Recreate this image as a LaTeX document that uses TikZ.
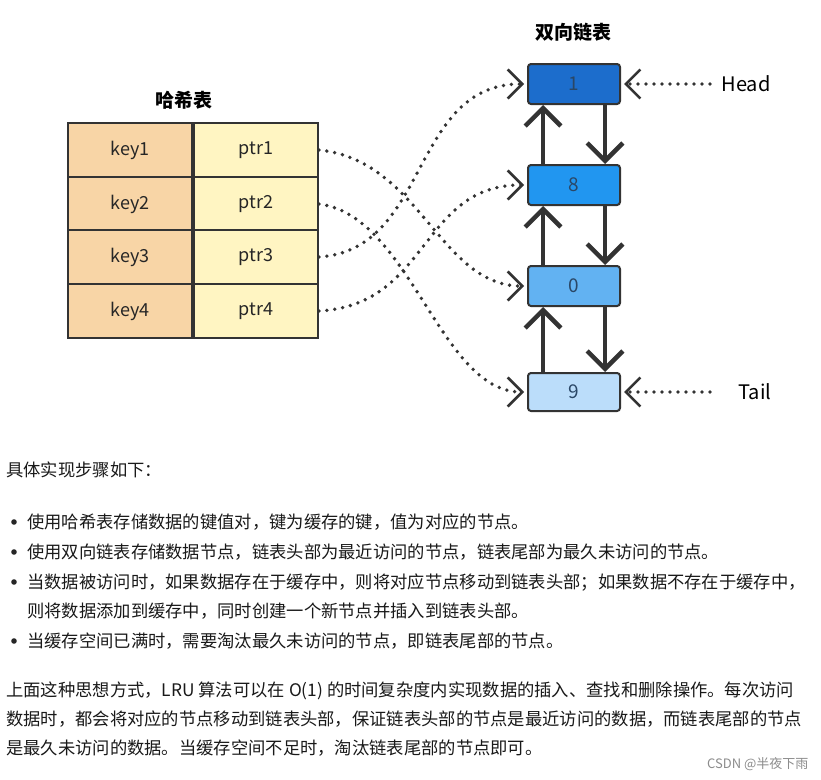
\documentclass[tikz,border=0pt]{standalone}
\usepackage{fontspec}
\setmainfont{Noto Sans CJK SC}
\usetikzlibrary{arrows.meta}
\definecolor{keyc}{HTML}{F8D5A6}
\definecolor{ptrc}{HTML}{FFF5C2}
\definecolor{bA}{HTML}{1C6DCC}
\definecolor{bB}{HTML}{2196F0}
\definecolor{bC}{HTML}{62B2F2}
\definecolor{bD}{HTML}{BBDDFA}
\definecolor{edge}{HTML}{333333}
\definecolor{ntxt}{HTML}{2A4766}
\tikzset{
 cell/.style={draw=edge,line width=1.8pt,minimum width=124pt,minimum height=53.5pt,inner sep=0pt,font=\fontsize{18}{20}\selectfont,text=black!85},
 lnode/.style={draw=edge,line width=2pt,rounded corners=3pt,minimum width=92pt,minimum height=40pt,inner sep=0pt,font=\fontsize{19}{20}\selectfont,text=ntxt},
 link/.style={line width=4.5pt,draw=edge,-{Straight Barb[scale=1.7]}},
 dots/.style={line width=3.8pt,draw=edge,dash pattern=on 0pt off 8pt,line cap=round,-{Straight Barb[scale=1.6,line width=2.6pt]}},
 body/.style={anchor=base west,font=\fontsize{17.3}{20}\selectfont,text=black!90,inner sep=0pt},
}
\begin{document}
\begin{tikzpicture}[x=1pt,y=-1pt]
\useasboundingbox[fill=white] (0,0) rectangle (821,779);
\node[font=\bfseries\fontsize{19}{22}\selectfont] (ht) at (184,100) {哈希表};
\node[font=\bfseries\fontsize{19}{22}\selectfont] (lt) at (573,32) {双向链表};
\foreach \i/\y in {1/150,2/204,3/257,4/311}{
 \node[cell,fill=keyc] (k\i) at (130,\y) {key\i};
 \node[cell,fill=ptrc] (p\i) at (256,\y) {ptr\i};
}
\node[lnode,fill=bA] (n1) at (574,84) {1};
\node[lnode,fill=bB] (n8) at (574,185) {8};
\node[lnode,fill=bC] (n0) at (574,286) {0};
\node[lnode,fill=bD,minimum height=38pt] (n9) at (574,392) {9};
\foreach \a/\b in {n1/n8,n8/n0,n0/n9}{
 \draw[link] ([xshift=31pt]\a.south) -- ([xshift=31pt]\b.north);
 \draw[link] ([xshift=-31pt]\b.north) -- ([xshift=-31pt]\a.south);
}
\node[font=\fontsize{20}{22}\selectfont,anchor=west] (hd) at (718,84) {Head};
\node[font=\fontsize{20}{22}\selectfont,anchor=west] (tl) at (735,392) {Tail};
\coordinate (hs) at (710,84);
\coordinate (ts) at (710,392);
\draw[dots] (hs) -- ([xshift=3pt]n1.east);
\draw[dots] (ts) -- ([xshift=3pt]n9.east);
\draw[dots] (p1.east) .. controls (420,160) and (440,286) .. ([xshift=-3pt]n0.west);
\draw[dots] (p2.east) .. controls (410,215) and (440,392) .. ([xshift=-3pt]n9.west);
\draw[dots] (p3.east) .. controls (430,250) and (410,84) .. ([xshift=-3pt]n1.west);
\draw[dots] (p4.east) .. controls (430,305) and (420,185) .. ([xshift=-3pt]n8.west);
\node[body] (t0) at (6,476) {具体实现步骤如下：};
\foreach \y/\t in {528/{使用哈希表存储数据的键值对，键为缓存的键，值为对应的节点。},
 558/{使用双向链表存储数据节点，链表头部为最近访问的节点，链表尾部为最久未访问的节点。},
 588/{当数据被访问时，如果数据存在于缓存中，则将对应节点移动到链表头部；如果数据不存在于缓存中，},
 647/{当缓存空间已满时，需要淘汰最久未访问的节点，即链表尾部的节点。}}{
 \node[body] at (27,\y) {\t};
 \fill[black!85] (14,\y-6) circle (2.8pt);
}
\node[body] (t5) at (27,617) {则将数据添加到缓存中，同时创建一个新节点并插入到链表头部。};
\node[body] (p1t) at (6,696) {上面这种思想方式，LRU 算法可以在 O(1) 的时间复杂度内实现数据的插入、查找和删除操作。每次访问};
\node[body] (p2t) at (6,725) {数据时，都会将对应的节点移动到链表头部，保证链表头部的节点是最近访问的数据，而链表尾部的节点};
\node[body] (p3t) at (6,754) {是最久未访问的数据。当缓存空间不足时，淘汰链表尾部的节点即可。};
\node[font=\fontsize{13}{14}\selectfont,text=black!45,anchor=east] (wm) at (812,764) {CSDN @半夜下雨};
\end{tikzpicture}
\end{document}
